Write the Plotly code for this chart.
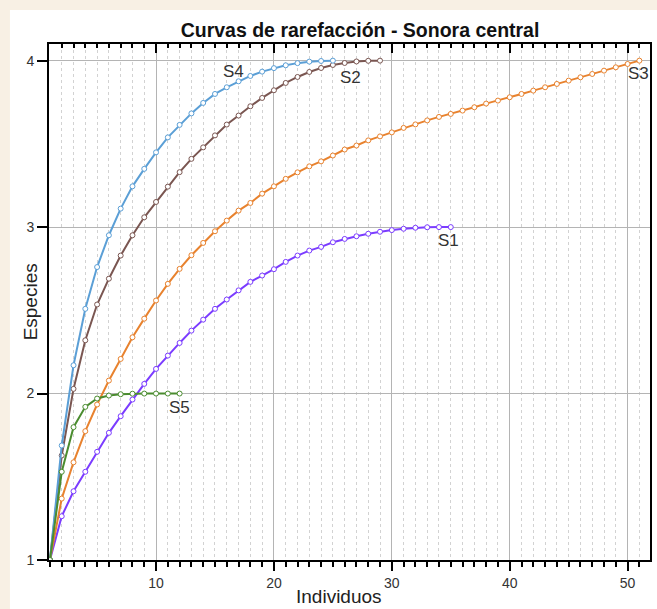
import plotly.graph_objects as go

# ---- data ----
s1_y = [1.0, 1.263, 1.413, 1.53, 1.65, 1.764, 1.864, 1.964, 2.058, 2.148, 2.228, 2.304,
        2.378, 2.444, 2.509, 2.565, 2.62, 2.671, 2.709, 2.747, 2.791, 2.829, 2.859, 2.881,
        2.909, 2.929, 2.945, 2.96, 2.972, 2.982, 2.99, 2.996, 2.999, 3.0, 3.0]
s2_y = [1.0, 1.628, 2.028, 2.32, 2.535, 2.69, 2.829, 2.951, 3.059, 3.151, 3.243, 3.33,
        3.41, 3.479, 3.551, 3.616, 3.67, 3.726, 3.776, 3.822, 3.866, 3.902, 3.932, 3.956,
        3.974, 3.986, 3.995, 3.999, 4.0]
s3_y = [1.0, 1.369, 1.587, 1.774, 1.934, 2.078, 2.208, 2.338, 2.45, 2.559, 2.659, 2.749,
        2.831, 2.905, 2.975, 3.039, 3.099, 3.145, 3.201, 3.245, 3.29, 3.329, 3.365, 3.395,
        3.43, 3.466, 3.49, 3.521, 3.545, 3.569, 3.596, 3.617, 3.641, 3.662, 3.68, 3.70,
        3.72, 3.742, 3.76, 3.78, 3.80, 3.82, 3.84, 3.86, 3.88, 3.90, 3.92, 3.94, 3.96,
        3.98, 4.0]
s4_y = [1.0, 1.688, 2.17, 2.509, 2.76, 2.951, 3.111, 3.245, 3.35, 3.449, 3.539, 3.614,
        3.683, 3.746, 3.80, 3.84, 3.876, 3.908, 3.934, 3.955, 3.972, 3.985, 3.994, 3.998, 4.0]
s5_y = [1.0, 1.53, 1.798, 1.92, 1.97, 1.988, 1.996, 1.999, 2.0, 2.0, 2.0, 2.0]

series_names = ["S1", "S2", "S3", "S4", "S5"]
series_vals = [s1_y, s2_y, s3_y, s4_y, s5_y]
series_colors = ["#7b3cff", "#7a5651", "#e8822e", "#5b9fd6", "#4a8c2f"]

# label positions (data units)
label_x = [34.8, 26.5, 50.9, 16.6, 12.0]
label_y = [2.92, 3.90, 3.92, 3.935, 1.915]

x_ticks = [10, 20, 30, 40, 50]
y_ticks = [1, 2, 3, 4]

FONT = "Liberation Sans, Arial, sans-serif"

fig = go.Figure()
for name, vals, col in zip(series_names, series_vals, series_colors):
    xs = list(range(1, len(vals) + 1))
    fig.add_trace(go.Scatter(
        x=xs, y=vals, mode="lines+markers", name=name,
        line=dict(color=col, width=2),
        marker=dict(symbol="circle", size=5, color="white",
                    line=dict(color=col, width=1)),
        showlegend=False, hoverinfo="x+y+name"))

# invisible trace on top axis so its inward ticks are drawn
fig.add_trace(go.Scatter(x=list(range(1, len(s3_y) + 1)), y=s3_y, xaxis="x2",
                         mode="lines", line=dict(width=0), opacity=0,
                         showlegend=False, hoverinfo="skip"))

for name, lx, ly in zip(series_names, label_x, label_y):
    fig.add_annotation(x=lx, y=ly, text=name, showarrow=False,
                       font=dict(family=FONT, size=17, color="#333333"))

fig.add_annotation(xref="paper", yref="paper", x=0.4826, y=-0.0717, xanchor="center",
                   yanchor="middle", text="Individuos",
                   showarrow=False, font=dict(family=FONT, size=19, color="#222222"))
fig.add_annotation(xref="paper", yref="paper", x=-0.031, y=0.5, xanchor="center",
                   yanchor="middle", text="Especies", textangle=-90,
                   showarrow=False, font=dict(family=FONT, size=19, color="#222222"))

# white panel on cream background
fig.add_shape(type="rect", xref="paper", yref="paper", x0=-0.065, x1=1.02,
              y0=-0.1, y1=1.066, fillcolor="white", line=dict(width=0), layer="below")

xr = [0.92, 51.9]
fig.update_layout(
    width=657, height=609,
    paper_bgcolor="#f8f0e4", plot_bgcolor="white",
    margin=dict(l=49, r=5, t=44, b=49),
    title=dict(text="<b>Curvas de rarefacción - Sonora central</b>", x=0.548,
               xanchor="center", y=0.951, yanchor="middle",
               font=dict(family=FONT, size=19.5, color="#111111")),
    xaxis=dict(range=xr, tickmode="array", tickvals=x_ticks,
               ticks="outside", ticklen=9, tickwidth=2, tickcolor="black",
               showline=True, linecolor="black", linewidth=2, mirror=True,
               showgrid=True, gridcolor="#b4b4b4", gridwidth=1, zeroline=False,
               tickfont=dict(family=FONT, size=14, color="#333333"),
               minor=dict(dtick=1, tick0=0, ticks="outside", ticklen=5, tickwidth=1.5,
                          tickcolor="black", showgrid=True, gridcolor="#d2d2d2",
                          griddash="dot", gridwidth=1)),
    xaxis2=dict(range=xr, overlaying="x", side="top", anchor="y",
                tickmode="array", tickvals=x_ticks, showticklabels=False,
                ticks="inside", ticklen=9, tickwidth=2, tickcolor="black",
                showgrid=False, showline=False, zeroline=False,
                minor=dict(dtick=1, tick0=0, ticks="inside", ticklen=4, tickwidth=1.5,
                           tickcolor="black", showgrid=False)),
    yaxis=dict(range=[1, 4.1], tickmode="array", tickvals=y_ticks,
               ticks="outside", ticklen=10, tickwidth=2, tickcolor="black",
               showline=True, linecolor="black", linewidth=2, mirror=True,
               showgrid=True, gridcolor="#b4b4b4", gridwidth=1, zeroline=False,
               tickfont=dict(family=FONT, size=14, color="#333333")),
)

fig.write_html("out.html", config={"displayModeBar": False},
               post_script="document.body.style.margin='0';"
                           "document.body.style.background='#f8f0e4';")
